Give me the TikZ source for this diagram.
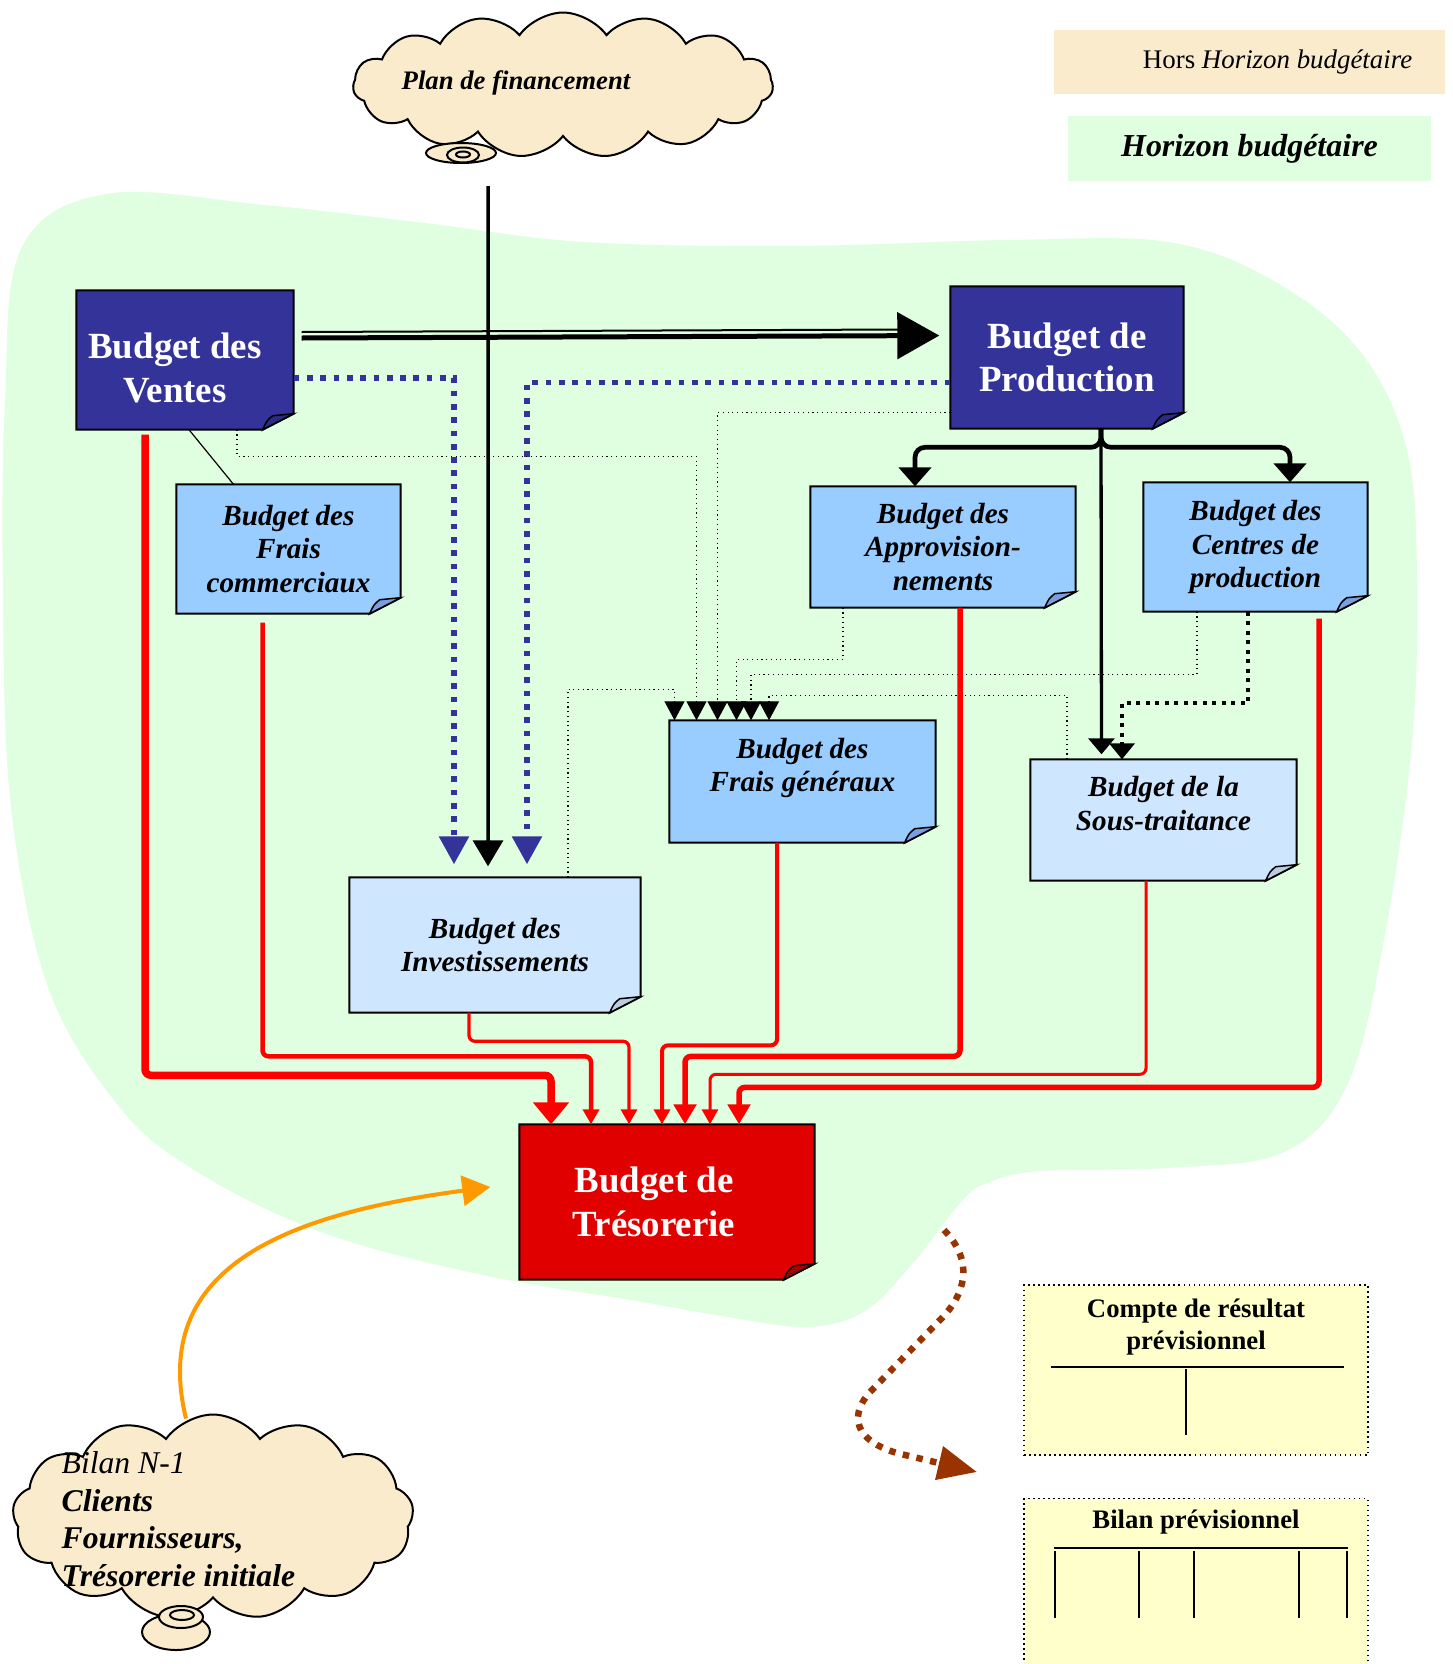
\documentclass[tikz,border=0pt]{standalone}
\usepackage{fontspec}
\setmainfont{Liberation Serif}
\usetikzlibrary{positioning}
\usetikzlibrary{calc}
\usetikzlibrary{arrows.meta}
\usetikzlibrary{shapes.symbols}

\definecolor{dkblue}{HTML}{333399}
\definecolor{ltblue}{HTML}{99CCFF}
\definecolor{paleblue}{HTML}{CFE6FF}
\definecolor{blobgreen}{HTML}{E0FFE0}
\definecolor{cloudbg}{HTML}{FAEBCD}
\definecolor{tresored}{HTML}{E00000}
\definecolor{resyellow}{HTML}{FFFFCC}
\definecolor{bilanorange}{HTML}{FF9900}
\definecolor{resbrown}{HTML}{993300}

\pgfdeclarelayer{blob}
\pgfdeclarelayer{boxes}
\pgfsetlayers{blob,boxes,main}

\newcommand{\bigtxt}{\fontsize{10.5}{12.4}\selectfont\bfseries}
\newcommand{\midtxt}{\fontsize{8.3}{9.5}\selectfont\bfseries\itshape}

% outline of a note with a folded corner, drawn round a named node
\newcommand{\notebox}[3]{%
  \filldraw[fill=#2, line width=0.2mm] (#1.north west) -- (#1.north east)
    -- ([yshift=1.6mm]#1.south east) -- ([xshift=-3.1mm]#1.south east)
    -- (#1.south west) -- cycle;
  \filldraw[fill=#3, line width=0.15mm] ([xshift=-3.1mm]#1.south east)
    .. controls ([xshift=-2.7mm,yshift=0.9mm]#1.south east) .. ([xshift=-2.1mm,yshift=1.4mm]#1.south east)
    -- ([yshift=1.6mm]#1.south east) -- cycle;
}

\tikzset{
  bigbox/.style={align=center, inner sep=0pt, text=white, font=\bigtxt},
  midbox/.style={align=center, inner sep=0pt, font=\midtxt},
  cloudy/.style={cloud, cloud puffs=15, cloud puff arc=110, cloud ignores aspect, draw, fill=cloudbg, line width=0.2mm},
  tail/.style={draw, fill=cloudbg, line width=0.2mm},
  redflow/.style={draw=red, rounded corners=0.6mm, -{Triangle[length=1.5mm,width=1.6mm]}},
  bluedots/.style={draw=dkblue, line width=0.57mm, dash pattern=on 0.57mm off 0.76mm,
    shorten >=1.3mm, -{Triangle[length=2.8mm,width=2.9mm]}},
  thindots/.style={densely dotted, line width=0.12mm, -{Triangle[length=1.9mm,width=2mm]}},
  resbox/.style={draw, densely dotted, line width=0.15mm, fill=resyellow},
  restxt/.style={align=center, inner sep=0pt, font=\fontsize{7.6}{9}\selectfont\bfseries},
}

\begin{document}
\begin{tikzpicture}[x=0.1mm, y=-0.1mm]
\useasboundingbox (0,0) rectangle (1452,1664);

% legend
\node[fill=cloudbg, minimum width=39.1mm, minimum height=6.4mm] (hors) at (1249.5,62) {};
\node[anchor=east, font=\fontsize{7.65}{9}\selectfont] (horstxt) at ([xshift=-2.1mm]hors.east) {Hors \textit{Horizon budgétaire}};
\node[fill=blobgreen, minimum width=36.3mm, minimum height=6.5mm, below=2.1mm of hors,
  font=\fontsize{9.1}{10}\selectfont\bfseries\itshape] (horizon) {Horizon budgétaire};

% clouds
\node[cloudy, minimum width=42mm, minimum height=14.5mm] (plan) at (563,85) {};
\filldraw[tail] (461,153) ellipse [x radius=3.5mm, y radius=1mm];
\filldraw[tail] (463,155) ellipse [x radius=1.6mm, y radius=0.75mm];
\filldraw[tail] (463,154.5) ellipse [x radius=0.7mm, y radius=0.3mm];
\node[font=\fontsize{7.6}{9}\selectfont\bfseries\itshape] (plantxt) at (516,83) {Plan de financement};
\coordinate (planfoot) at (488,186);

\node[cloudy, cloud puffs=13, minimum width=40.1mm, minimum height=20.5mm] (bilan) at (213,1517) {};
\filldraw[tail] (176,1632) ellipse [x radius=3.4mm, y radius=1.8mm];
\filldraw[tail] (181,1617) ellipse [x radius=2.2mm, y radius=1.1mm];
\filldraw[tail] (182,1615) ellipse [x radius=1.2mm, y radius=0.5mm];
\node[anchor=west, align=left, inner sep=0pt, font=\fontsize{9}{10.7}\selectfont\itshape] (bilantxt) at (61,1519)
  {Bilan N-1\\\textbf{Clients}\\\textbf{Fournisseurs,}\\\textbf{Trésorerie initiale}};

% budgets
\node[bigbox, minimum width=21.6mm, minimum height=13.8mm] (vente) at (185,360)
  {\hspace*{-2mm}\rule{0pt}{4.2mm}Budget des\\\hspace*{-2mm}Ventes};
\node[bigbox, minimum width=23.2mm, minimum height=14.1mm] (prod) at (1067,357.5) {Budget de\\Production};
\node[midbox, minimum width=22.3mm, minimum height=12.8mm] (fcom) at (288.5,549) {Budget des\\Frais\\commerciaux};
\node[midbox, minimum width=26.4mm, minimum height=12mm] (appro) at (943,547) {Budget des\\Approvision-\\nements};
\node[midbox, minimum width=22.3mm, minimum height=12.8mm] (centres) at (1255.5,547) {Budget des\\Centres de\\production};
\node[midbox, minimum width=26.5mm, minimum height=12.1mm] (fgen) at (802.5,781.5) {Budget des\\Frais généraux\\\mbox{}};
\node[midbox, minimum width=26.5mm, minimum height=12mm] (sous) at (1163.5,820) {Budget de la\\Sous-traitance\\\mbox{}};
\node[midbox, minimum width=29mm, minimum height=13.4mm] (invest) at (495,945) {Budget des\\Investissements};
\node[bigbox, minimum width=29.4mm, minimum height=15.4mm] (treso) at (667,1202)
  {\hspace*{-2.6mm}Budget de\\\hspace*{-2.6mm}Trésorerie};

% final statements
\node[resbox, minimum width=34.4mm, minimum height=17mm] (compte) at (1196,1370) {};
\node[restxt, below=1.4mm of compte.north] (comptetxt) {Compte de résultat\\prévisionnel};
\node[resbox, minimum width=34.4mm, minimum height=18mm, below=4.2mm of compte] (bilanprev) {};
\node[restxt, below=1.1mm of bilanprev.north] (bilanprevtxt) {Bilan prévisionnel};
\draw[line width=0.2mm] (1051,1367) -- (1344,1367) (1186,1369) -- (1186,1435);
\draw[line width=0.2mm] (1054,1548) -- (1348,1548);
\foreach \x in {1055,1139,1194,1299,1347}
  \draw[line width=0.2mm] (\x,1551) -- (\x,1618);

\begin{pgfonlayer}{blob}
  \fill[white] (0,0) rectangle (1452,1664);
  \fill[blobgreen] plot[smooth cycle, tension=0.6] coordinates {
    (21,249) (106,194) (265,205) (425,223) (584,242) (796,246) (1008,240)
    (1168,242) (1274,281) (1359,350) (1406,446) (1417,573) (1412,743)
    (1385,934) (1348,1083) (1284,1152) (1168,1168) (1040,1171) (987,1183)
    (961,1202) (913,1263) (865,1311) (807,1327) (722,1316) (637,1301)
    (478,1274) (318,1231) (191,1168) (117,1104) (48,987) (11,807) (3,594) (5,403)};
\end{pgfonlayer}

\begin{pgfonlayer}{boxes}
  \notebox{vente}{dkblue}{dkblue!85!black}
  \notebox{prod}{dkblue}{dkblue!85!black}
  \notebox{fcom}{ltblue}{ltblue!70!dkblue}
  \notebox{appro}{ltblue}{ltblue!70!dkblue}
  \notebox{centres}{ltblue}{ltblue!70!dkblue}
  \notebox{fgen}{ltblue}{ltblue!70!dkblue}
  \notebox{sous}{paleblue}{paleblue!75!gray}
  \notebox{invest}{paleblue}{paleblue!75!gray}
  \notebox{treso}{tresored}{tresored!75!black}
\end{pgfonlayer}

% flows between budgets
\draw[bluedots] ([yshift=-1.8mm]vente.east) -| ([xshift=-4.1mm]invest.north);
\draw[bluedots] ([yshift=-2.5mm]prod.west) -| ([xshift=3.2mm]invest.north);
\draw[line width=0.2mm] ([xshift=0.8mm,yshift=2.8mm]vente.east) -- ([xshift=-5mm,yshift=2.8mm]prod.west);
\draw[line width=0.5mm, shorten >=1.1mm, -{Triangle[length=4.2mm,width=4.6mm]}]
  ([xshift=0.8mm,yshift=2.2mm]vente.east) -- ([yshift=2.2mm]prod.west);
\draw[line width=0.35mm, shorten >=1.1mm, -{Triangle[length=2.6mm,width=3mm]}]
  (planfoot) -- ([xshift=-0.7mm]invest.north);
\draw[line width=0.12mm] ([xshift=0.4mm]vente.south) -- ([xshift=-5.5mm]fcom.north);

\draw[line width=0.47mm, rounded corners=1mm, -{Triangle[length=1.9mm,width=3.2mm]}]
  ([xshift=3.4mm]prod.south) |- ([xshift=-2.8mm,yshift=3.9mm]appro.north) -- ([xshift=-2.8mm]appro.north);
\draw[line width=0.47mm, rounded corners=1mm, -{Triangle[length=1.9mm,width=3.2mm]}]
  ([xshift=3.4mm]prod.south) |- ([xshift=3.45mm,yshift=3.5mm]centres.north) -- ([xshift=3.45mm]centres.north);
\draw[line width=0.33mm, shorten >=0.5mm, -{Triangle[length=1.6mm,width=2.6mm]}]
  ([xshift=3.4mm]prod.south) -- ([xshift=-6.2mm]sous.north);
\draw[line width=0.4mm, dash pattern=on 0.4mm off 0.55mm, -{Triangle[length=1.6mm,width=2.5mm]}]
  ([xshift=-0.75mm]centres.south) |- ([xshift=-4.15mm,yshift=5.6mm]sous.north) -- ([xshift=-4.15mm]sous.north);

% into the overheads budget
\draw[thindots] ([xshift=7.3mm]invest.north) |- ([xshift=-12.8mm,yshift=3.1mm]fgen.north) -- ([xshift=-12.8mm]fgen.north);
\draw[thindots] ([xshift=5.2mm]vente.south) |- ([xshift=-10.6mm,yshift=26.4mm]fgen.north) -- ([xshift=-10.6mm]fgen.north);
\draw[thindots] ([yshift=-5.5mm]prod.west) -| ([xshift=-8.5mm]fgen.north);
\draw[thindots] ([xshift=-10mm]appro.south) |- ([xshift=-6.6mm,yshift=6.1mm]fgen.north) -- ([xshift=-6.6mm]fgen.north);
\draw[thindots] ([xshift=-5.85mm]centres.south) |- ([xshift=-5.15mm,yshift=4.6mm]fgen.north) -- ([xshift=-5.15mm]fgen.north);
\draw[thindots] ([xshift=-9.65mm]sous.north) |- ([xshift=-3.35mm,yshift=2.5mm]fgen.north) -- ([xshift=-3.35mm]fgen.north);

% into the cash budget
\draw[redflow, line width=0.75mm, -{Triangle[length=2.2mm,width=3.5mm]}]
  ([xshift=-4mm,yshift=-0.5mm]vente.south) |- ([xshift=-11.6mm,yshift=4.9mm]treso.north) -- ([xshift=-11.6mm]treso.north);
\draw[redflow, line width=0.45mm]
  ([xshift=-2.6mm,yshift=-0.9mm]fcom.south) |- ([xshift=-7.6mm,yshift=6.8mm]treso.north) -- ([xshift=-7.6mm]treso.north);
\draw[redflow, line width=0.33mm]
  ([xshift=-2.6mm]invest.south) |- ([xshift=-3.8mm,yshift=8.3mm]treso.north) -- ([xshift=-3.8mm]treso.north);
\draw[redflow, line width=0.4mm]
  ([xshift=-2.55mm]fgen.south) |- ([xshift=-0.5mm,yshift=7.9mm]treso.north) -- ([xshift=-0.5mm]treso.north);
\draw[redflow, line width=0.55mm, -{Triangle[length=2mm,width=2.2mm]}]
  ([xshift=1.7mm]appro.south) |- ([xshift=1.8mm,yshift=6.8mm]treso.north) -- ([xshift=1.8mm]treso.north);
\draw[redflow, line width=0.3mm]
  ([xshift=-1.75mm]sous.south) |- ([xshift=4.3mm,yshift=5mm]treso.north) -- ([xshift=4.3mm]treso.north);
\draw[redflow, line width=0.55mm, -{Triangle[length=2mm,width=2.2mm]}]
  ([xshift=6.35mm,yshift=-0.7mm]centres.south) |- ([xshift=7.2mm,yshift=3.7mm]treso.north) -- ([xshift=7.2mm]treso.north);

% opening balance and closing statements
\draw[bilanorange, line width=0.4mm, -{Triangle[length=2.8mm,width=3mm]}]
  ([xshift=-2.7mm,yshift=-0.5mm]bilan.north) .. controls (150,1270) and (280,1215) .. ([xshift=-2.9mm,yshift=1.5mm]treso.west);
\coordinate (blobedge) at (944,1230);
\coordinate (statements) at (977,1472);
\draw[resbrown, line width=0.65mm, dash pattern=on 0.65mm off 0.75mm, -{Triangle[length=3.9mm,width=3.3mm]}]
  (blobedge) .. controls (975,1262) and (965,1295) .. (940,1320) -- (870,1392)
  .. controls (845,1420) and (860,1445) .. (905,1455) -- (statements);

\end{tikzpicture}
\end{document}
